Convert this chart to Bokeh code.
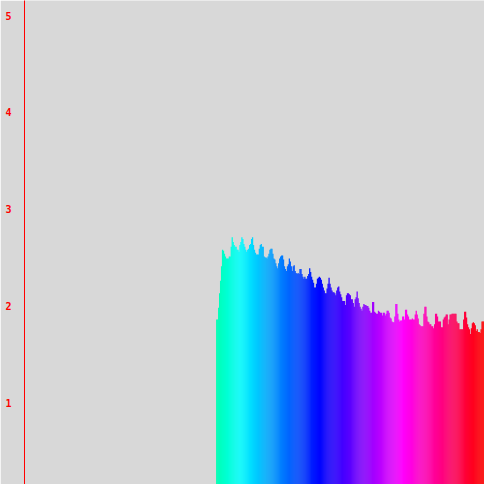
import colorsys

from bokeh.plotting import figure
from bokeh.models import Range1d, FixedTicker, ColumnDataSource
from bokeh.embed import file_html
from bokeh.resources import INLINE

# bar heights, one per bin
heights = [
    1.86, 1.86, 1.98, 2.13, 2.26, 2.41, 2.58, 2.57, 2.54, 2.51, 2.49, 2.49, 2.49, 2.51, 2.51,
    2.61, 2.71, 2.66, 2.63, 2.61, 2.61, 2.58, 2.58, 2.56, 2.63, 2.66, 2.71, 2.69, 2.64, 2.61,
    2.58, 2.56, 2.58, 2.59, 2.63, 2.64, 2.69, 2.71, 2.63, 2.58, 2.55, 2.53, 2.53, 2.53, 2.59,
    2.63, 2.64, 2.61, 2.61, 2.51, 2.50, 2.50, 2.49, 2.51, 2.54, 2.58, 2.59, 2.59, 2.54, 2.49,
    2.48, 2.44, 2.41, 2.39, 2.44, 2.49, 2.51, 2.52, 2.52, 2.48, 2.41, 2.38, 2.36, 2.41, 2.43,
    2.49, 2.46, 2.41, 2.36, 2.41, 2.42, 2.36, 2.34, 2.33, 2.34, 2.33, 2.38, 2.38, 2.33, 2.30,
    2.28, 2.30, 2.28, 2.28, 2.31, 2.33, 2.39, 2.35, 2.30, 2.27, 2.24, 2.19, 2.19, 2.23, 2.28,
    2.29, 2.30, 2.29, 2.27, 2.23, 2.19, 2.16, 2.13, 2.13, 2.18, 2.23, 2.29, 2.23, 2.19, 2.16,
    2.14, 2.14, 2.13, 2.11, 2.16, 2.19, 2.20, 2.15, 2.12, 2.09, 2.05, 2.05, 2.05, 2.01, 2.11,
    2.13, 2.13, 2.12, 2.11, 2.07, 2.07, 2.03, 1.99, 2.07, 2.09, 2.15, 2.08, 2.03, 1.99, 1.97,
    1.95, 1.99, 2.02, 2.01, 2.01, 2.00, 2.00, 1.98, 1.95, 1.93, 1.93, 2.04, 2.04, 1.94, 1.93,
    1.92, 1.92, 1.95, 1.94, 1.93, 1.93, 1.90, 1.93, 1.93, 1.90, 1.92, 1.95, 1.95, 1.93, 1.88,
    1.87, 1.84, 1.83, 1.83, 1.89, 2.02, 2.02, 1.92, 1.86, 1.84, 1.85, 1.85, 1.89, 1.89, 1.86,
    1.96, 1.96, 1.91, 1.89, 1.86, 1.86, 1.86, 1.87, 1.86, 1.86, 1.91, 1.95, 1.91, 1.87, 1.81,
    1.80, 1.79, 1.79, 1.79, 1.92, 1.99, 1.99, 1.89, 1.84, 1.83, 1.81, 1.81, 1.79, 1.79, 1.77,
    1.81, 1.92, 1.92, 1.89, 1.84, 1.84, 1.84, 1.78, 1.78, 1.86, 1.88, 1.89, 1.91, 1.91, 1.81,
    1.86, 1.91, 1.91, 1.92, 1.92, 1.92, 1.92, 1.92, 1.84, 1.82, 1.82, 1.76, 1.76, 1.76, 1.76,
    1.86, 1.94, 1.94, 1.88, 1.81, 1.78, 1.76, 1.71, 1.77, 1.82, 1.83, 1.82, 1.80, 1.74, 1.76,
    1.73, 1.73, 1.72, 1.76, 1.84, 1.84, 1.84,
]
bins = list(range(len(heights)))
y_ticks = [1, 2, 3, 4, 5]

# rainbow colouring, hue running from spring green to red across the bins
colors = []
for i in bins:
    h = (162.0 + 0.7186 * (i + 0.5)) / 360.0
    r, g, b = colorsys.hsv_to_rgb(h % 1.0, 1.0, 1.0)
    colors.append("#%02x%02x%02x" % (int(r * 255), int(g * 255), int(b * 255)))

src = ColumnDataSource(dict(x=bins, top=heights, color=colors))

p = figure(width=484, height=484, output_backend="svg", toolbar_location=None,
           x_range=Range1d(-198.5, 276.5), y_range=Range1d(0.155, 5.155),
           x_axis_location=None, min_border_left=24, min_border_right=0,
           min_border_top=0, min_border_bottom=0)

# slightly wider than a bin so neighbours overlap and no gray seams show
p.vbar(x="x", top="top", bottom=0, width=1.3, fill_color="color", line_color=None, source=src)

p.background_fill_color = "#d8d8d8"
p.border_fill_color = "#d8d8d8"
p.outline_line_color = None
p.grid.visible = False

ax = p.yaxis[0]
ax.ticker = FixedTicker(ticks=y_ticks)
ax.axis_line_color = "red"
ax.axis_line_width = 1
ax.major_tick_line_color = None
ax.minor_tick_line_color = None
ax.major_tick_out = 0
ax.major_tick_in = 0
ax.major_label_standoff = 13
ax.major_label_text_color = "red"
ax.major_label_text_font = "DejaVu Sans Mono"
ax.major_label_text_font_style = "bold"
ax.major_label_text_font_size = "10px"

open("out.html", "w").write(file_html(p, INLINE))
